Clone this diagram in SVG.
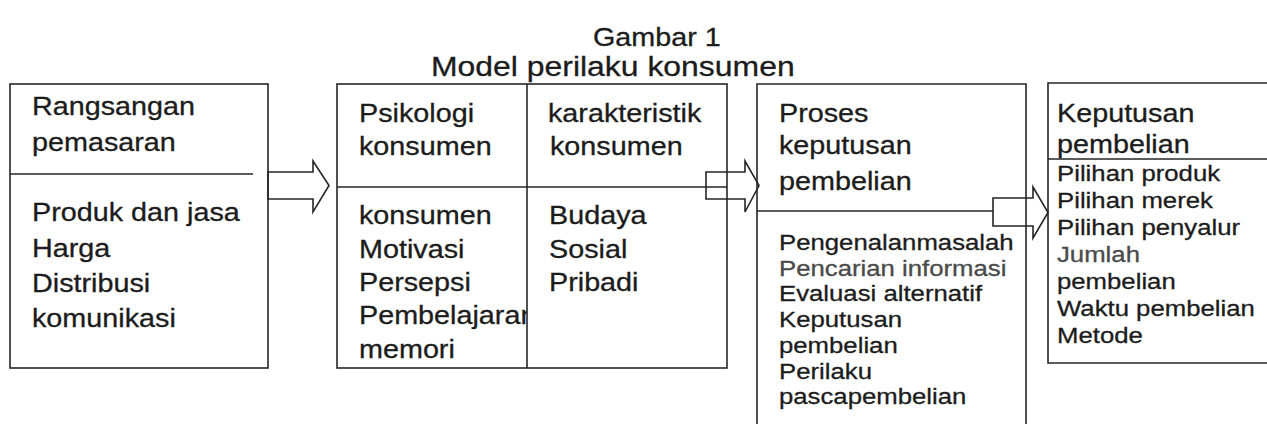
<svg xmlns="http://www.w3.org/2000/svg" width="1267" height="424" viewBox="0 0 1267 424">
<style>
.ln{fill:none;stroke:#262626;stroke-width:1.6}
.ar{fill:#fff;stroke:#262626;stroke-width:1.6;stroke-linejoin:miter}
.t{font-family:"Liberation Sans",Arial,sans-serif;font-size:25px;fill:#1c1c1c;stroke:#1c1c1c;stroke-width:0.3}
.s{font-family:"Liberation Sans",Arial,sans-serif;font-size:22px;fill:#1c1c1c;stroke:#1c1c1c;stroke-width:0.3}
.g{fill:#4a4a4a;stroke:#4a4a4a}
</style>
<defs>
<clipPath id="c2"><rect x="337" y="187" width="190" height="190"/></clipPath>
</defs>
<rect width="1267" height="424" fill="#fff"/>
<g id="title">
<text class="t" transform="translate(593,46) scale(1.15,1)">Gambar 1</text>
<text class="t" style="font-size:28px" transform="translate(431,76) scale(1.14,1)">Model perilaku konsumen</text>
</g>
<g id="connectors">
<path class="ar" d="M268,172 H313 V161 L329,185.5 L313,212 V199 H268 Z"/>
<path class="ar" d="M706,172 H745 V161 L759,185.5 L745,212 V199 H706 Z"/>
<path class="ar" d="M993,198 H1033 V187 L1048,212.5 L1033,238 V226 H993 Z"/>
</g>
<g id="rangsangan">
<rect class="ln" x="10" y="84" width="258" height="284"/>
<line class="ln" x1="10" y1="174" x2="253" y2="174"/>
<text class="t" transform="translate(32,115) scale(1.15,1)">Rangsangan</text>
<text class="t" transform="translate(32,151) scale(1.15,1)">pemasaran</text>
<text class="t" transform="translate(32,221) scale(1.15,1)">Produk dan jasa</text>
<text class="t" transform="translate(32,256.5) scale(1.15,1)">Harga</text>
<text class="t" transform="translate(32,292) scale(1.15,1)">Distribusi</text>
<text class="t" transform="translate(32,327) scale(1.15,1)">komunikasi</text>
</g>
<g id="psikologi">
<rect class="ln" x="337" y="84" width="390" height="284"/>
<line class="ln" x1="527" y1="84" x2="527" y2="368"/>
<line class="ln" x1="337" y1="187" x2="727" y2="187"/>
<text class="t" transform="translate(359,122) scale(1.15,1)">Psikologi</text>
<text class="t" transform="translate(359,154.5) scale(1.15,1)">konsumen</text>
<text class="t" transform="translate(548,122) scale(1.15,1)">karakteristik</text>
<text class="t" transform="translate(550,154.5) scale(1.15,1)">konsumen</text>
<g clip-path="url(#c2)">
<text class="t" transform="translate(359,224) scale(1.15,1)">konsumen</text>
<text class="t" transform="translate(359,257.5) scale(1.15,1)">Motivasi</text>
<text class="t" transform="translate(359,291) scale(1.15,1)">Persepsi</text>
<text class="t" transform="translate(359,324) scale(1.15,1)">Pembelajaran</text>
<text class="t" transform="translate(359,358) scale(1.15,1)">memori</text>
</g>
<text class="t" transform="translate(549,224) scale(1.15,1)">Budaya</text>
<text class="t" transform="translate(549,257.5) scale(1.15,1)">Sosial</text>
<text class="t" transform="translate(549,291) scale(1.15,1)">Pribadi</text>
</g>
<g id="proses">
<path class="ln" d="M757,424 V84 H1026 V424"/>
<line class="ln" x1="757" y1="211" x2="993" y2="211"/>
<text class="t" transform="translate(779,122) scale(1.15,1)">Proses</text>
<text class="t" transform="translate(779,154) scale(1.15,1)">keputusan</text>
<text class="t" transform="translate(779,189.5) scale(1.15,1)">pembelian</text>
<text class="s" transform="translate(779,250) scale(1.17,1)">Pengenalanmasalah</text>
<text class="s g" transform="translate(779,275.7) scale(1.17,1)">Pencarian informasi</text>
<text class="s" transform="translate(779,301.4) scale(1.17,1)">Evaluasi alternatif</text>
<text class="s" transform="translate(779,327.1) scale(1.17,1)">Keputusan</text>
<text class="s" transform="translate(779,352.8) scale(1.17,1)">pembelian</text>
<text class="s" transform="translate(779,378.5) scale(1.17,1)">Perilaku</text>
<text class="s" transform="translate(779,404.2) scale(1.17,1)">pascapembelian</text>
</g>
<g id="keputusan">
<path class="ln" d="M1268,83 H1048 V363 H1268"/>
<line class="ln" x1="1048" y1="159" x2="1268" y2="159"/>
<text class="t" transform="translate(1057,122) scale(1.15,1)">Keputusan</text>
<text class="t" transform="translate(1057,152.5) scale(1.15,1)">pembelian</text>
<text class="s" transform="translate(1057,180.5) scale(1.17,1)">Pilihan produk</text>
<text class="s" transform="translate(1057,207.5) scale(1.17,1)">Pilihan merek</text>
<text class="s" transform="translate(1057,234.5) scale(1.17,1)">Pilihan penyalur</text>
<text class="s g" transform="translate(1057,261.5) scale(1.17,1)">Jumlah</text>
<text class="s" transform="translate(1057,288.5) scale(1.17,1)">pembelian</text>
<text class="s" transform="translate(1057,315.5) scale(1.17,1)">Waktu pembelian</text>
<text class="s" transform="translate(1057,342.5) scale(1.17,1)">Metode</text>
</g>
</svg>
